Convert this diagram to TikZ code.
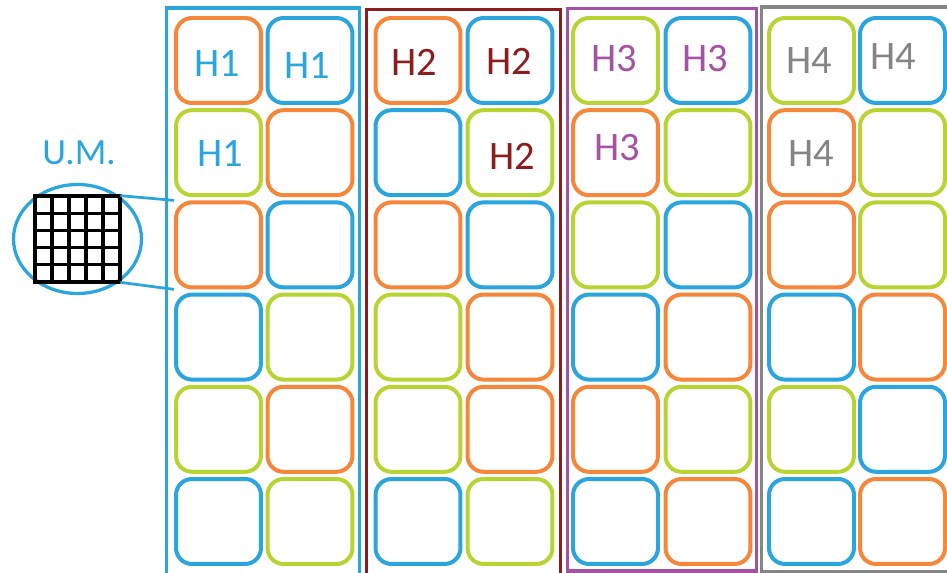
\documentclass[tikz,border=0pt]{standalone}
\usepackage{fontspec}
\setmainfont{Carlito}
\usetikzlibrary{shapes.geometric}

\definecolor{umblue}{HTML}{2AA5DD}
\definecolor{umorange}{HTML}{F6863A}
\definecolor{umgreen}{HTML}{B7D433}
\definecolor{hred}{HTML}{8C1C1E}
\definecolor{hpurple}{HTML}{A452A4}
\definecolor{hgray}{HTML}{858585}

\tikzset{
  cell/.style={draw, rounded corners=0.32cm, minimum size=1.7cm, line width=0.08cm, inner sep=0pt},
  grp/.style={line width=0.065cm},
  hlabel/.style={font=\fontsize{23}{26}\selectfont, inner sep=0pt},
  gridline/.style={line width=0.065cm, black, line cap=rect}
}

\begin{document}
\begin{tikzpicture}[x=0.02cm, y=-0.02cm]
  \useasboundingbox (0,0) rectangle (947,573);
  \clip (0,0) rectangle (947,573);

  % Gruplar (H1..H4)
  \draw[grp, umblue] (166.5,8) rectangle (359.7,590);
  \draw[grp, hred] (366.3,9.7) rectangle (560.6,590);
  \draw[grp, hpurple] (567.3,8.7) rectangle (756.3,571);
  \draw[grp, hgray] (761.3,7) rectangle (960,571.5);

  % Hücreler: her grup iki sütun, altı satır
  \foreach \g/\xa/\xb/\cols in {
      1/218.5/310/{umorange/umblue, umgreen/umorange, umorange/umblue, umblue/umgreen, umgreen/umorange, umblue/umgreen},
      2/418/510/{umorange/umblue, umblue/umgreen, umorange/umblue, umgreen/umorange, umgreen/umorange, umblue/umgreen},
      3/615.5/708/{umgreen/umblue, umorange/umgreen, umgreen/umblue, umblue/umorange, umorange/umgreen, umblue/umorange},
      4/811.5/902.5/{umgreen/umblue, umorange/umgreen, umorange/umgreen, umblue/umorange, umgreen/umblue, umblue/umorange}}{
    \foreach \ca/\cb [count=\r] in \cols {
      \pgfmathsetmacro\ry{60.5+92.2*(\r-1)}
      \node[cell, draw=\ca] (h\g-\r-1) at (\xa,\ry) {};
      \node[cell, draw=\cb] (h\g-\r-2) at (\xb,\ry) {};
    }
  }

  % Etiketler
  \foreach \n/\x/\y/\t/\c in {1a/217/64/H1/umblue, 1b/307/66/H1/umblue, 1c/220/154/H1/umblue,
      2a/414/62/H2/hred, 2b/509/61/H2/hred, 2c/512/156/H2/hred,
      3a/614/59/H3/hpurple, 3b/705/59/H3/hpurple, 3c/617/148/H3/hpurple,
      4a/809/61/H4/hgray, 4b/893/57/H4/hgray, 4c/811/154/H4/hgray}
    \node[hlabel, text=\c] (lbl-\n) at (\x,\y) {\t};

  % Büyüteç: U.M.
  \node[text=umblue, font=\fontsize{21}{24}\selectfont, inner sep=0pt] (umlabel) at (79,153) {U.M.};
  \node[ellipse, draw=umblue, line width=0.065cm, minimum width=2.56cm, minimum height=2.18cm] (umcirc) at (77.5,239) {};
  \node[minimum width=1.7cm, minimum height=1.72cm, inner sep=0pt] (umgrid) at (77.5,239) {};
  \foreach \i in {0,...,5} {
    \draw[gridline] (35+17*\i,196) -- (35+17*\i,282);
    \draw[gridline] (35,196+17.2*\i) -- (120,196+17.2*\i);
  }
  \draw[umblue, line width=0.055cm] (umgrid.north east) -- (h1-3-1.north west);
  \draw[umblue, line width=0.055cm] (umgrid.south east) -- (h1-3-1.south west);
\end{tikzpicture}
\end{document}
